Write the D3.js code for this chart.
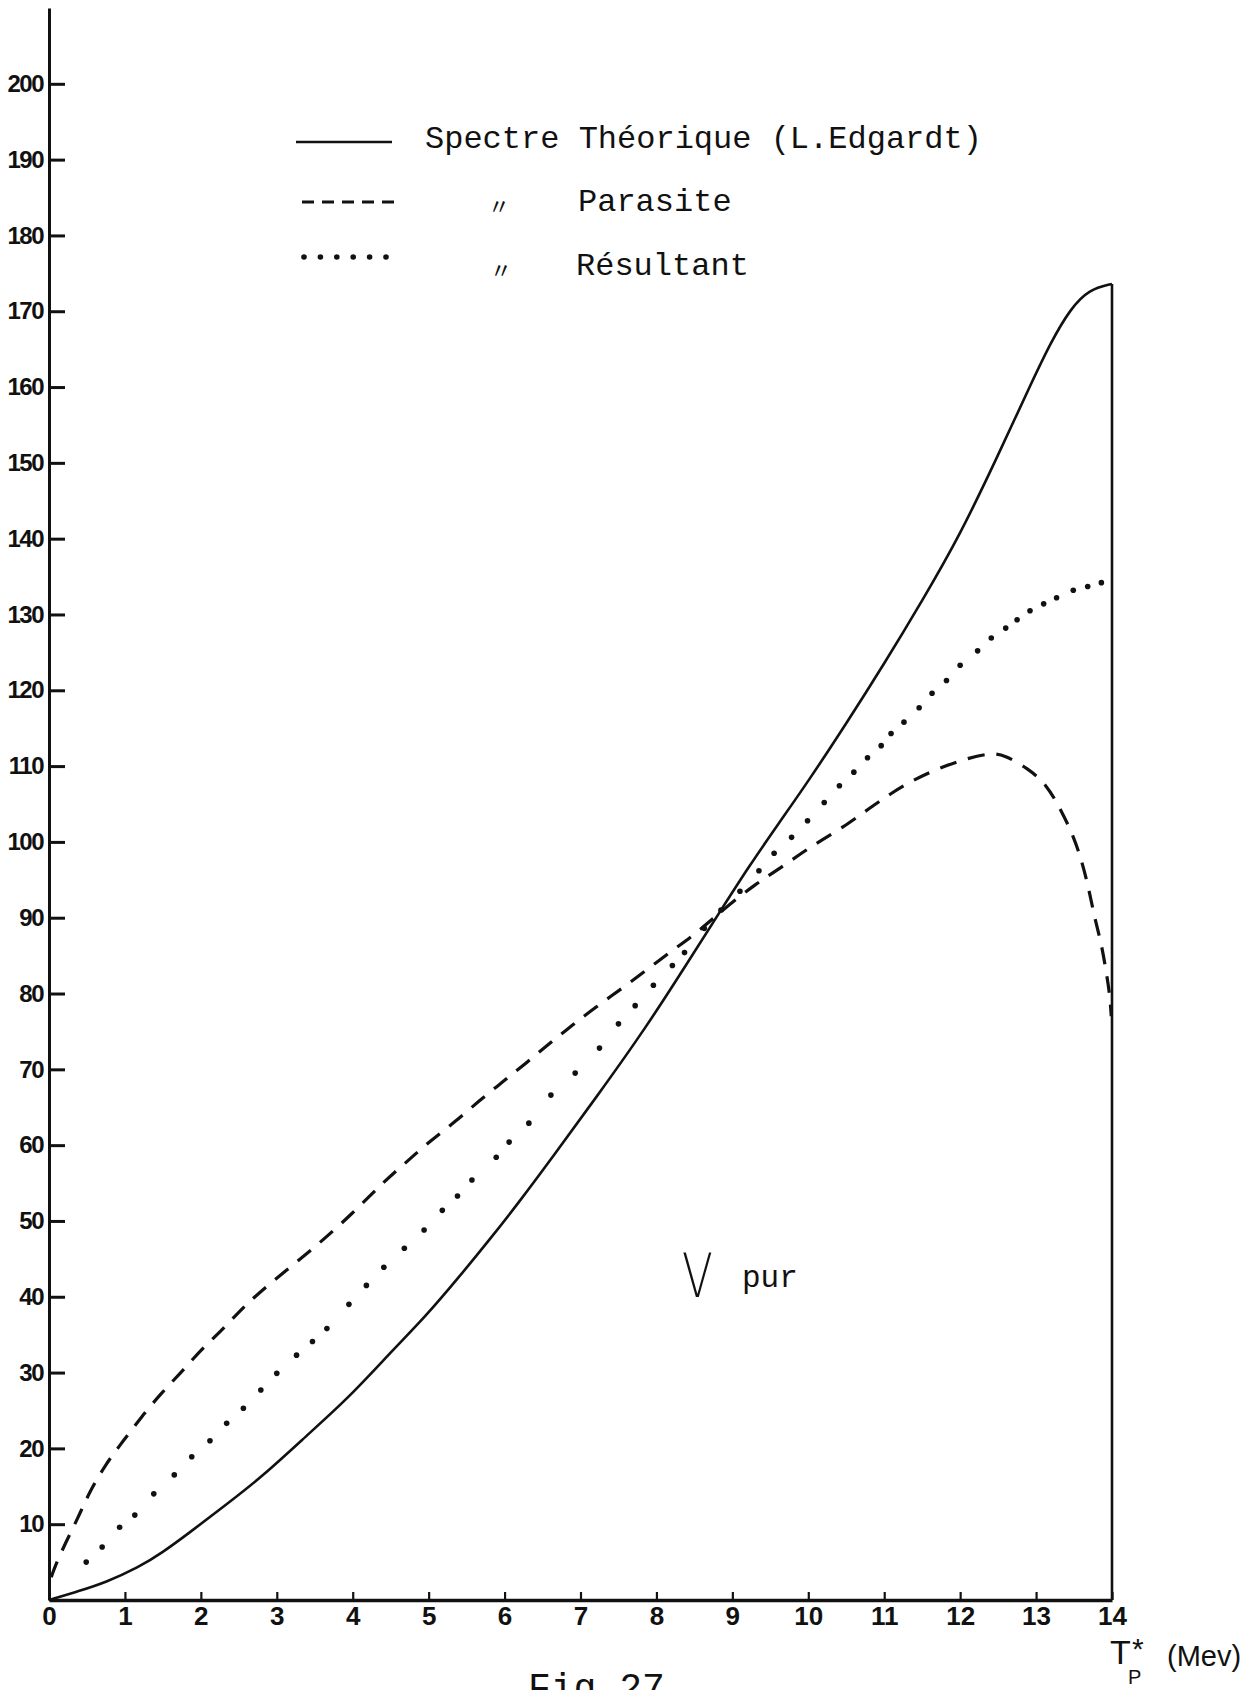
<!DOCTYPE html>
<html lang="fr">
<head>
<meta charset="UTF-8">
<title>Fig.27 - V pur</title>
<script src="https://d3js.org/d3.v7.min.js"></script>
<style>
    html, body { margin: 0; padding: 0; background: #fff; }
    svg { display: block; }
    .typed { font-family: "Liberation Mono", "DejaVu Sans Mono", monospace; fill: #111; }
    .hand { font-family: "Liberation Sans", Arial, sans-serif; fill: #111; }
</style>
</head>
<body>
<div id="chart"></div>
<script>
// abscisse : T*p (Mev)
const xTicks = [0, 1, 2, 3, 4, 5, 6, 7, 8, 9, 10, 11, 12, 13, 14];
const yTicks = [10, 20, 30, 40, 50, 60, 70, 80, 90, 100, 110, 120, 130, 140, 150, 160, 170, 180, 190, 200];

// spectre theorique (L.Edgardt) - trait plein
const theorique = [
    [0, 0], [0.4, 1.2], [0.74, 2.3], [1.18, 4.3], [1.5, 6.3], [1.84, 8.8], [2.36, 12.8],
    [2.8, 16.2], [3.46, 22.3], [3.95, 26.7], [4.55, 33.2], [4.96, 37.4], [5.4, 42.6],
    [5.8, 47.5], [6.2, 52.6], [6.63, 58.4], [7.2, 66.2], [7.87, 75.6], [8.43, 84.4],
    [8.85, 91], [9.22, 96.8], [9.6, 102.3], [10, 108], [10.5, 115.6], [11, 123.5],
    [11.5, 131.8], [12, 140.5], [12.5, 151], [12.95, 160.8], [13.2, 166],
    [13.45, 170.3], [13.7, 172.9], [14, 173.6]
];

// spectre parasite - tirets
const parasite = [
    [0.03, 3], [0.08, 4.5], [0.23, 7.8], [0.39, 11], [0.52, 14], [0.75, 18], [0.98, 21],
    [1.22, 24.2], [1.48, 27.3], [1.73, 29.9], [2.01, 33.1], [2.32, 36], [2.59, 39],
    [3, 42.5], [3.5, 46.5], [4, 51], [4.39, 55], [4.7, 57.7], [5, 60.4], [5.34, 63],
    [5.67, 65.9], [5.97, 68.3], [6.28, 70.8], [6.59, 73.4], [6.89, 75.8], [7.2, 78.2],
    [7.55, 80.7], [7.87, 83.1], [8.21, 85.7], [8.52, 87.9], [8.87, 91], [9.31, 94.5],
    [9.64, 96.6], [9.92, 98.6], [10.17, 100.2], [10.5, 102.2], [10.8, 104.4],
    [11.09, 106.4], [11.37, 108.1], [11.73, 109.8], [12.12, 111.1], [12.4, 111.7],
    [12.58, 111.5], [12.89, 109.7], [13.13, 107.7], [13.33, 104.2], [13.5, 100.6],
    [13.61, 97.2], [13.7, 93.6], [13.77, 90], [13.86, 86.6], [13.92, 83.1],
    [13.97, 80], [13.99, 77]
];

// spectre resultant - points
const resultant = [
    [0.49, 5], [0.7, 7], [0.93, 9.6], [1.13, 11.2], [1.38, 14], [1.65, 16.5], [1.88, 18.9],
    [2.12, 21], [2.34, 23.3], [2.56, 25.3], [2.79, 27.7], [3.0, 29.9], [3.26, 32.3],
    [3.47, 34.1], [3.66, 35.8], [3.95, 39], [4.18, 41.5], [4.41, 43.9], [4.68, 46.4],
    [4.94, 48.8], [5.18, 51.4], [5.38, 53.3], [5.57, 55.4], [5.89, 58.4], [6.06, 60.4],
    [6.32, 62.9], [6.61, 66.6], [6.93, 69.5], [7.25, 72.8], [7.5, 76], [7.72, 78.4],
    [7.96, 81.1], [8.21, 83.7], [8.37, 85.4], [8.63, 88.6], [8.85, 91], [9.1, 93.5],
    [9.35, 96.2], [9.55, 98.5], [9.78, 100.6], [9.99, 102.8], [10.21, 105.2],
    [10.41, 107.4], [10.6, 109.2], [10.78, 111.1], [10.96, 112.7], [11.09, 114.3],
    [11.26, 115.8], [11.46, 117.7], [11.63, 119.6], [11.82, 121.3], [12.0, 123.3],
    [12.23, 125.2], [12.41, 126.9], [12.6, 128.2], [12.75, 129.3], [12.92, 130.5],
    [13.1, 131.4], [13.27, 132.2], [13.49, 133.2], [13.68, 133.7], [13.86, 134.2]
];

const legendLabels = ["Spectre Théorique (L.Edgardt)", "Parasite", "Résultant"];

const width = 1255, height = 1690;

const svg = d3.select("#chart").append("svg")
    .attr("width", width)
    .attr("height", height)
    .style("background", "#fff");

const x = d3.scaleLinear().domain([0, 14]).range([49, 1112]);
const y = d3.scaleLinear().domain([0, 210]).range([1600, 8]);

// axes
const gx = svg.append("g")
    .attr("transform", `translate(0,${y(0)})`)
    .call(d3.axisBottom(x).tickValues(xTicks).tickSize(-8).tickSizeOuter(0).tickPadding(7));
gx.select(".domain").attr("stroke", "#111").attr("stroke-width", 3.5);
gx.selectAll(".tick line").attr("stroke", "#111").attr("stroke-width", 2.2);
gx.selectAll(".tick text")
    .attr("class", "hand")
    .style("font-size", "26px")
    .style("font-weight", "bold")
    .attr("fill", "#111");

const gy = svg.append("g")
    .attr("transform", `translate(${x(0)},0)`)
    .call(d3.axisLeft(y).tickValues(yTicks).tickSize(-16).tickSizeOuter(0).tickPadding(6));
gy.select(".domain").attr("stroke", "#111").attr("stroke-width", 3);
gy.selectAll(".tick line").attr("stroke", "#111").attr("stroke-width", 3);
gy.selectAll(".tick text")
    .attr("class", "hand")
    .style("font-size", "24px")
    .style("font-weight", "bold")
    .style("letter-spacing", "-1.5px")
    .attr("fill", "#111");

const line = d3.line()
    .x(d => x(d[0]))
    .y(d => y(d[1]))
    .curve(d3.curveBasis);

// courbe theorique + chute verticale a 14 Mev
svg.append("path")
    .datum(theorique)
    .attr("d", line)
    .attr("fill", "none")
    .attr("stroke", "#111")
    .attr("stroke-width", 2.6);

const last = theorique[theorique.length - 1];
svg.append("line")
    .attr("x1", x(last[0])).attr("x2", x(last[0]))
    .attr("y1", y(last[1])).attr("y2", y(0))
    .attr("stroke", "#111")
    .attr("stroke-width", 2.6);

svg.append("path")
    .datum(parasite)
    .attr("d", line)
    .attr("fill", "none")
    .attr("stroke", "#111")
    .attr("stroke-width", 3.2)
    .attr("stroke-dasharray", "17 12");

svg.append("g").selectAll("circle")
    .data(resultant)
    .join("circle")
    .attr("cx", d => x(d[0]))
    .attr("cy", d => y(d[1]))
    .attr("r", 2.8)
    .attr("fill", "#111");

// legende
const lg = svg.append("g");
lg.append("line")
    .attr("x1", 296).attr("x2", 392).attr("y1", 142).attr("y2", 142)
    .attr("stroke", "#111").attr("stroke-width", 2.6);
lg.append("line")
    .attr("x1", 302).attr("x2", 399).attr("y1", 202).attr("y2", 202)
    .attr("stroke", "#111").attr("stroke-width", 3).attr("stroke-dasharray", "12 8");
lg.selectAll("circle")
    .data(d3.range(6))
    .join("circle")
    .attr("cx", i => 304 + i * 16.4)
    .attr("cy", 257)
    .attr("r", 2.8)
    .attr("fill", "#111");

const labelPos = [[425, 148], [578, 211], [576, 275]];
lg.selectAll("text.lab")
    .data(legendLabels)
    .join("text")
    .attr("class", "typed lab")
    .attr("x", (d, i) => labelPos[i][0])
    .attr("y", (d, i) => labelPos[i][1])
    .style("font-size", "32px")
    .text(d => d);

[[488, 214], [490, 278]].forEach(p => {
    lg.append("text")
        .attr("x", p[0]).attr("y", p[1])
        .style("font-family", "'Noto Sans CJK JP', sans-serif")
        .style("font-size", "22px")
        .attr("fill", "#111")
        .text("〃");
});

// V pur
svg.append("text")
    .attr("transform", "translate(682,1297) scale(0.75,1)")
    .style("font-family", "'DejaVu Sans', sans-serif")
    .style("font-weight", 200)
    .style("font-size", "60px")
    .attr("fill", "#111")
    .text("V");
svg.append("text")
    .attr("class", "typed")
    .attr("x", 742).attr("y", 1287)
    .style("font-size", "31px")
    .text("pur");

// titre de l'abscisse
svg.append("text").attr("class", "hand").attr("x", 1110).attr("y", 1664)
    .style("font-size", "34px").text("T");
svg.append("text").attr("class", "hand").attr("x", 1132).attr("y", 1659)
    .style("font-size", "30px").text("*");
svg.append("text").attr("class", "hand").attr("x", 1128).attr("y", 1684)
    .style("font-size", "20px").text("P");
svg.append("text").attr("class", "hand").attr("x", 1167).attr("y", 1666)
    .style("font-size", "29px").text("(Mev)");

svg.append("text")
    .attr("class", "typed")
    .attr("x", 528).attr("y", 1700)
    .style("font-size", "38px")
    .text("Fig.27");
</script>
</body>
</html>
